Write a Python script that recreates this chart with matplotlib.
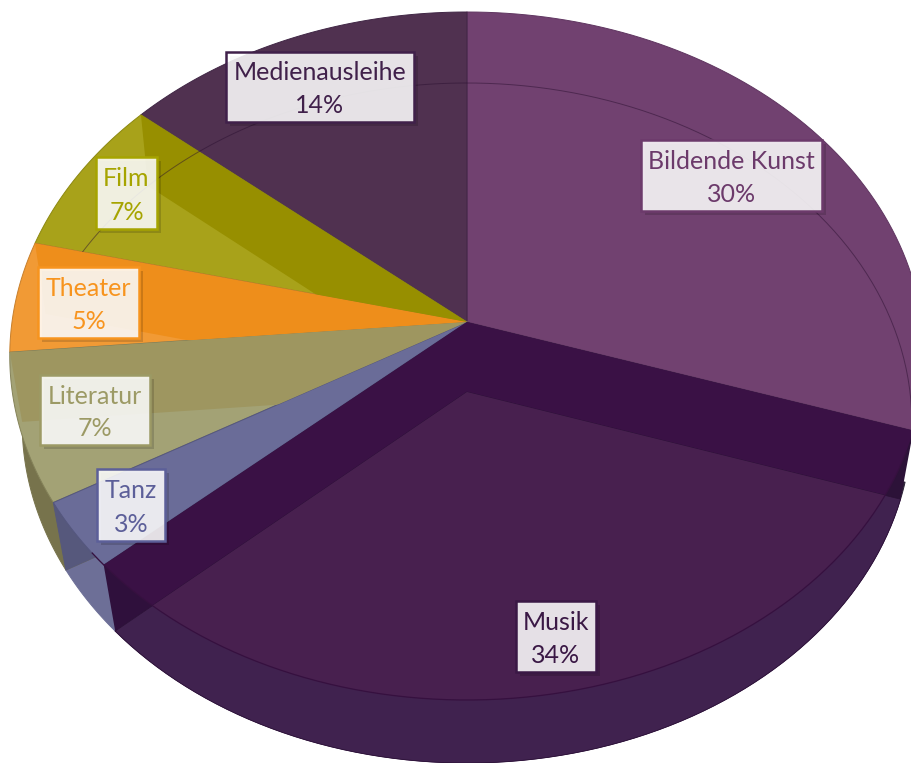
import numpy as np
import matplotlib
matplotlib.use("Agg")
import matplotlib.pyplot as plt
from matplotlib.patches import Polygon, Rectangle
import matplotlib.patheffects as pe

categories = ["Bildende Kunst", "Musik", "Tanz", "Literatur", "Theater", "Film", "Medienausleihe"]
values = [30, 33.4, 3.2, 7, 5.2, 7.4, 13.8]
percent_labels = [30, 34, 3, 7, 5, 7, 14]
plt.rcParams['font.family'] = ['Lato', 'DejaVu Sans']

face = ["#714170", "#48204f", "#6a6c98", "#a3a275", "#f19a35", "#a8a21a", "#503150"]
inner = [None, "#3a1145", None, "#9e9660", "#ee8e1b", "#978f00", None]
wall = ["#2e2338", "#40224f", "#6d6f97", "#77734c", "#d98a30", "#8c8810", "#452a48"]
edge = ["#5f3560", "#36103f", "#55577f", "#85835a", "#c77f2c", "#8c8810", "#402645"]
text_col = ["#6c3a6b", "#3a1845", "#5c5f99", "#9c9a65", "#f7941e", "#a6a400", "#40204a"]
boxes = {"Bildende Kunst": (641, 140, 181, 71), "Musik": (516, 601, 80, 71), "Tanz": (97, 469, 68, 72),
         "Literatur": (40, 375, 110, 70), "Theater": (38, 267, 101, 71), "Film": (96, 157, 61, 72),
         "Medienausleihe": (226, 52, 188, 70)}

CX = 467
TOP = dict(ay=322, A=455, up=310, down=378)
BOT = dict(ay=392, A=443, up=309, down=371)


def pt(theta, g):
    """Perspective projection of a disc point; theta is clockwise from 12 o'clock."""
    u, v = np.sin(theta), np.cos(theta)
    a = (g['down'] - g['up']) / (g['down'] + g['up'])
    B = g['up'] * (1 + a)
    d = 1 + a * v
    return np.column_stack([CX + g['A'] * u / d, g['ay'] - B * v / d])


def arc(t0, t1, g, n=80):
    return pt(np.linspace(t0, t1, n), g)


def wedge(t0, t1, g):
    return np.vstack([[CX, g['ay']], arc(t0, t1, g)])


def quad(t):
    return np.array([[CX, TOP['ay']], pt(np.array([t]), TOP)[0], pt(np.array([t]), BOT)[0], [CX, BOT['ay']]])


fig = plt.figure(figsize=(9.12, 7.63), dpi=100)
ax = fig.add_axes([0, 0, 1, 1])
ax.set_xlim(0, 912)
ax.set_ylim(763, 0)
ax.axis('off')

cum = np.cumsum([0] + values) / sum(values) * 2 * np.pi
top_disc = Polygon(arc(0, 2 * np.pi, TOP, 400), transform=ax.transData, fc='none', ec='none')


def add(xy, fc, ec=None, clip=None, z=1, lw=0.7):
    p = Polygon(xy, closed=True, fc=fc, ec=ec if ec else fc, lw=lw, zorder=z, joinstyle='round')
    ax.add_patch(p)
    if clip is not None:
        p.set_clip_path(clip)
    return p


# walls seen beyond the top disc
for i in (2, 3, 1):
    add(wedge(cum[i], cum[i + 1], BOT), wall[i], z=1)
add(quad(cum[3]), "#56587c", z=1.2)
add(wedge(cum[1] - 0.05, cum[1], BOT), wall[0], z=1)

# top faces
for i in (0, 6, 5, 4, 3, 2):
    t0, t1 = cum[i], cum[i + 1]
    add(wedge(t0, t1, TOP), face[i], ec=edge[i], z=2)
    if inner[i]:
        clip = Polygon(wedge(t0, t1, TOP), transform=ax.transData)
        add(quad(t1), inner[i], clip=clip, z=2.5, lw=0)

# Musik: side wall, dark inner bands, sunken face
add(quad(cum[1]), "#2c1238", z=3, lw=0)
add(quad(cum[2]), "#2f103c", z=3, lw=0)
add(quad(cum[1]), inner[1], clip=top_disc, z=3.2, lw=0)
add(quad(cum[2]), inner[1], clip=top_disc, z=3.2, lw=0)
add(wedge(cum[1], cum[2], BOT), wall[1], z=3.3, ec="#2a1035", lw=0.5)
add(wedge(cum[1], cum[2], BOT), face[1], clip=top_disc, z=3.4, lw=0)
ax.plot(*arc(cum[1] + 0.06, cum[2] + 0.04, TOP).T, color="#36103f", lw=0.9, zorder=3.6)

# ghost outline of the lower disc, kept inside each slice
for i in (0, 6, 5):
    clip = Polygon(wedge(cum[i], cum[i + 1], TOP), transform=ax.transData)
    ln, = ax.plot(*arc(cum[i] - 0.25, cum[i + 1] + 0.25, BOT).T, color="#2a0f30", lw=0.7, alpha=0.5, zorder=3.5)
    ln.set_clip_path(clip)

# labels
for name, v, col in zip(categories, percent_labels, text_col):
    x, y, w, h = boxes[name]
    r = Rectangle((x, y), w, h, fc=(1, 1, 1, 0.87), ec=col, lw=1.8, zorder=5)
    r.set_path_effects([pe.SimplePatchShadow(offset=(3, -3), shadow_rgbFace='black', alpha=0.15), pe.Normal()])
    ax.add_patch(r)
    ax.text(x + w / 2, y + h * 0.30, name, ha='center', va='center', color=col, fontsize=18, zorder=6)
    ax.text(x + w / 2, y + h * 0.77, f"{v}%", ha='center', va='center', color=col, fontsize=18, zorder=6)

fig.savefig("out.png", dpi=100, facecolor='white')
